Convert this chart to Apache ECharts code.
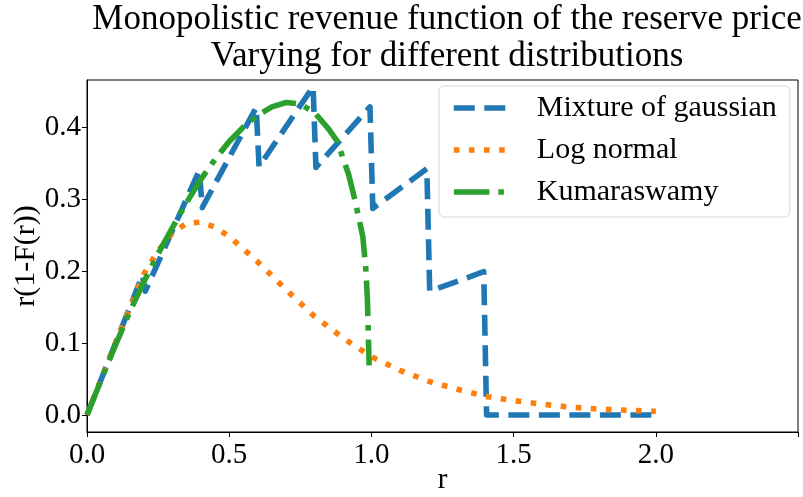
<!DOCTYPE html>
<html>
<head>
<meta charset="utf-8">
<script src="https://cdn.jsdelivr.net/npm/echarts@6/dist/echarts.min.js"></script>
<style>html,body{margin:0;padding:0;background:#fff;}#c{width:803px;height:497px;}</style>
</head>
<body>
<div id="c"></div>
<script>
// ---- data ----
var titleLines = ['Monopolistic revenue function of the reserve price', 'Varying for different distributions'];
var xLabel = 'r';
var yLabel = 'r(1-F(r))';
var seriesNames = ['Mixture of gaussian', 'Log normal', 'Kumaraswamy'];
var xTickLabels = [0, 0.5, 1.0, 1.5, 2.0];
var xTicks = [0, 0.5, 1.0, 1.5, 2.0, 2.5];
var yTicks = [0.0, 0.1, 0.2, 0.3, 0.4];

var mixtureR = [0, 0.195, 0.205, 0.395, 0.405, 0.595, 0.605, 0.795, 0.805, 0.995, 1.005, 1.195, 1.205, 1.395, 1.405, 2.0];
var mixtureV = [0, 0.194, 0.172, 0.340, 0.288, 0.427, 0.345, 0.456, 0.344, 0.428, 0.287, 0.342, 0.172, 0.199, 0.0, 0.0];

var lognormR = [0, 0.05, 0.1, 0.15, 0.2, 0.25, 0.3, 0.35, 0.4, 0.45, 0.5, 0.6, 0.7, 0.8, 0.9, 1.0, 1.1, 1.2, 1.3, 1.4, 1.5, 1.6, 1.7, 1.8, 1.9, 2.0];
var lognormV = [0, 0.05, 0.1, 0.148, 0.196, 0.228, 0.253, 0.266, 0.268, 0.261, 0.248, 0.213, 0.174, 0.137, 0.107, 0.081, 0.062, 0.047, 0.036, 0.026, 0.020, 0.015, 0.011, 0.0082, 0.0066, 0.005];

var kumaR = [0, 0.05, 0.1, 0.15, 0.2, 0.25, 0.3, 0.35, 0.4, 0.45, 0.5, 0.55, 0.6, 0.65, 0.7, 0.75, 0.8, 0.85, 0.88, 0.9, 0.92, 0.94, 0.96, 0.97, 0.98, 0.986, 0.992];
var kumaV = [0, 0.049, 0.097, 0.143, 0.185, 0.224, 0.26, 0.295, 0.327, 0.355, 0.38, 0.4, 0.416, 0.428, 0.434, 0.432, 0.42, 0.397, 0.38, 0.357, 0.334, 0.302, 0.266, 0.247, 0.205, 0.16, 0.069];

function zip(a, b) { return a.map(function (v, i) { return [v, b[i]]; }); }

var FONT = '"Liberation Serif", "Times New Roman", serif';
var chart = echarts.init(document.getElementById('c'), null, { renderer: 'canvas' });
chart.setOption({
  animation: false,
  backgroundColor: '#fff',
  title: {
    text: titleLines.join('\n'),
    left: 442, top: -4, textAlign: 'center',
    textStyle: { fontFamily: FONT, fontSize: 35, fontWeight: 'normal', color: '#000', lineHeight: 37 }
  },
  grid: { left: 87, right: 5, top: 80, bottom: 65, show: true, borderColor: '#000', borderWidth: 1,
    backgroundColor: 'transparent', outerBoundsMode: 'none', containLabel: false },
  legend: {
    orient: 'vertical', left: 439, top: 86,
    padding: [7, 13, 10, 12], itemGap: 12, itemWidth: 54, itemHeight: 30,
    backgroundColor: 'rgba(255,255,255,0.8)', borderColor: '#d6d6d6', borderWidth: 1, borderRadius: 5,
    itemStyle: { opacity: 0 },
    lineStyle: { width: 5.6 },
    textStyle: { fontFamily: FONT, fontSize: 30, color: '#000', padding: [0, 0, 0, 24] },
    data: seriesNames
  },
  xAxis: {
    type: 'value', min: 0, max: 2.5,
    name: xLabel, nameLocation: 'middle', nameGap: 34, nameMoveOverlap: false,
    nameTextStyle: { fontFamily: FONT, fontSize: 29, color: '#000' },
    axisLine: { show: true, onZero: false, lineStyle: { color: '#000', width: 1 } },
    axisTick: { show: true, inside: false, length: 5, customValues: xTicks, lineStyle: { color: '#000' } },
    axisLabel: { customValues: xTickLabels, fontFamily: FONT, fontSize: 29, color: '#000', margin: 9,
      formatter: function (v) { return v.toFixed(1); } },
    splitLine: { show: false }
  },
  yAxis: {
    type: 'value', min: -0.0236, max: 0.4653,
    name: yLabel, nameLocation: 'middle', nameGap: 46, nameRotate: 90, nameMoveOverlap: false,
    nameTextStyle: { fontFamily: FONT, fontSize: 30, color: '#000' },
    axisLine: { show: true, onZero: false, lineStyle: { color: '#000', width: 1 } },
    axisTick: { show: true, inside: false, length: 5, customValues: yTicks, lineStyle: { color: '#000' } },
    axisLabel: { customValues: yTicks, fontFamily: FONT, fontSize: 29, color: '#000', margin: 6,
      formatter: function (v) { return v.toFixed(1); } },
    splitLine: { show: false }
  },
  series: [
    { name: seriesNames[0], type: 'line', symbol: 'none', data: zip(mixtureR, mixtureV), z: 2,
      lineStyle: { color: '#1f77b4', width: 5.6, type: [21, 9.5], cap: 'butt', join: 'round' }, itemStyle: { color: '#1f77b4' } },
    { name: seriesNames[1], type: 'line', symbol: 'none', smooth: false, data: zip(lognormR, lognormV), z: 3,
      lineStyle: { color: '#ff7f0e', width: 5.6, type: [5.6, 9.5], cap: 'butt' }, itemStyle: { color: '#ff7f0e' } },
    { name: seriesNames[2], type: 'line', symbol: 'none', data: zip(kumaR, kumaV), z: 4,
      lineStyle: { color: '#2ca02c', width: 5.6, type: [35.6, 8.9, 5.6, 8.9], cap: 'butt' }, itemStyle: { color: '#2ca02c' } }
  ]
});
</script>
</body>
</html>
